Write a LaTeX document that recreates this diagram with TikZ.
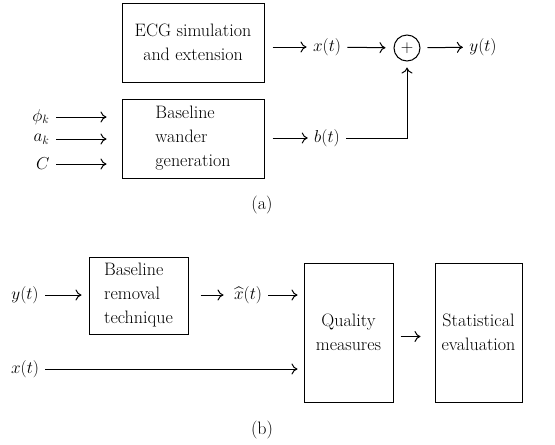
\documentclass[tikz,border=0pt]{standalone}
\usepackage{amsmath}
\usepackage{tikz}
\usetikzlibrary{arrows.meta, positioning, calc}

\begin{document}
\begin{tikzpicture}[x=1pt, y=-1pt, line width=1pt,
    font=\fontsize{18}{24}\selectfont,
    box/.style={draw, rectangle, inner sep=2pt},
    sig/.style={inner sep=6pt},
    arr/.style={-{Computer Modern Rightarrow[length=6pt, width=11pt]}}]
  \useasboundingbox (0,0) rectangle (555,445);
  % (a) signal generation
  \node[box, minimum width=142pt, minimum height=79pt, align=center] (ecg) at (193,42.5) {ECG simulation\\and extension};
  \node[box, minimum width=142pt, minimum height=79pt, align=left] (bw) at (193,138.5) {Baseline\\wander\\generation};
  \node[sig] (xt) at (327,47) {$x(t)$};
  \node[draw, circle, minimum size=26pt, inner sep=0pt, font=\fontsize{16}{18}\selectfont] (sum) at (407,48) {$+$};
  \node[sig] (yt) at (483,47) {$y(t)$};
  \node[sig] (bt) at (327,138) {$b(t)$};
  \node[sig, anchor=east] (phik) at (56,117) {$\phi_k$};
  \node[sig, anchor=east] (ak) at (56,139) {$a_k$};
  \node[sig, anchor=east] (cc) at (56,164) {$C$};
  \draw[arr, shorten <=8pt] (ecg.east |- xt) -- (xt);
  \draw[arr, shorten >=8pt] (xt) -- (sum);
  \draw[arr, shorten <=7pt] (sum) -- (yt);
  \draw[arr, shorten <=8pt] (bw.east |- bt) -- (bt);
  \draw[arr, shorten >=6pt] (bt.east) -| (sum.south);
  \draw[arr, shorten >=15pt] (phik.east) -- (bw.west |- phik.east);
  \draw[arr, shorten >=15pt] (ak.east) -- (bw.west |- ak.east);
  \draw[arr, shorten >=15pt] (cc.east) -- (bw.west |- cc.east);
  \node (la) at (262,205) {(a)};
  % (b) evaluation
  \node[box, minimum width=99pt, minimum height=77pt, align=left] (brt) at (138.5,295.5) {Baseline\\removal\\technique};
  \node[sig] (yin) at (25,295) {$y(t)$};
  \node[sig] (xhat) at (248,295) {$\widehat{x}(t)$};
  \node[sig] (xin) at (25,369) {$x(t)$};
  \node[box, minimum width=89pt, minimum height=139pt, align=center] (qm) at (348.5,332.5) {Quality\\measures};
  \node[box, minimum width=87pt, minimum height=139pt, align=center] (se) at (478.5,332.5) {Statistical\\evaluation};
  \draw[arr, shorten >=7pt] (yin) -- (brt.west |- yin);
  \draw[arr, shorten <=12pt, shorten >=4pt] (brt.east |- xhat) -- (xhat);
  \draw[arr, shorten >=6pt] (xhat) -- (qm.west |- xhat);
  \draw[arr, shorten >=6pt] (xin) -- (qm.west |- xin);
  \draw[arr, shorten <=7pt, shorten >=14pt] ([yshift=-4pt]qm.east) -- ([yshift=-4pt]se.west);
  \node (lb) at (262,430) {(b)};
\end{tikzpicture}
\end{document}
